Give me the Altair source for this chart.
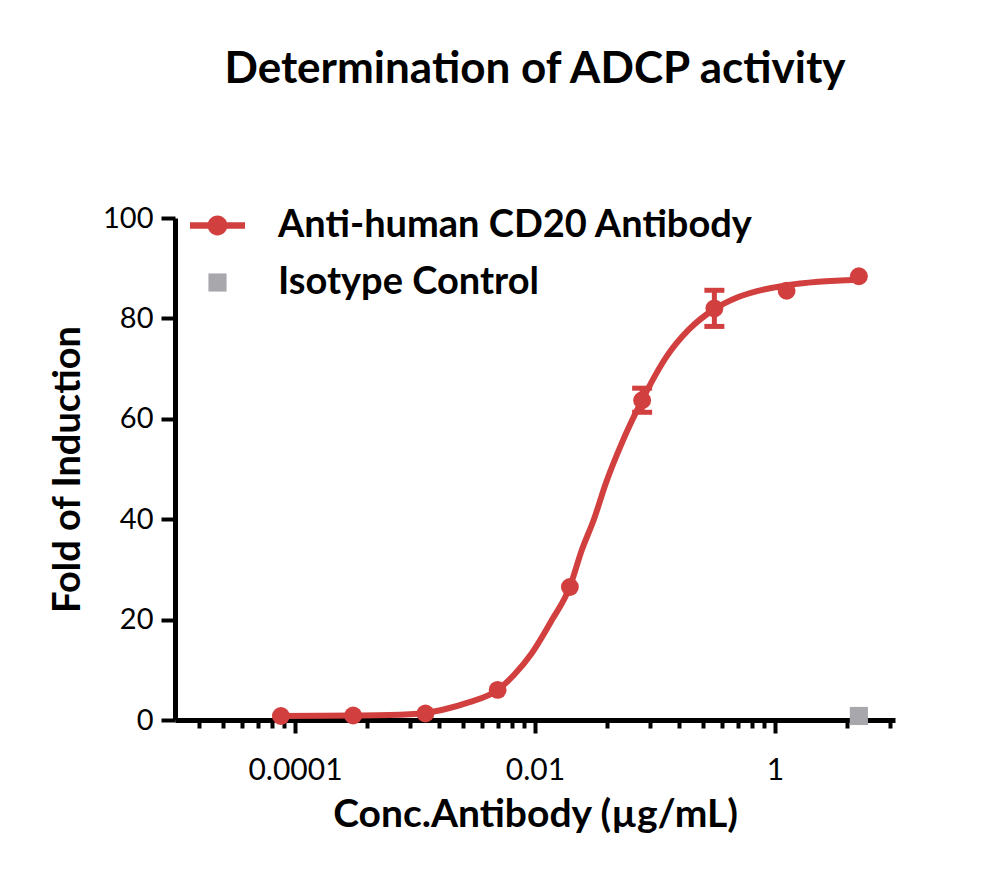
import altair as alt
import pandas as pd

# ---- data ----
conc = [5.0, 1.25, 0.3125, 0.078125, 0.01953, 0.004883, 0.001221, 0.0003052, 0.0000763]
fold = [88.4, 85.5, 82.0, 63.7, 26.5, 6.0, 1.3, 0.9, 0.8]
err = [0.0, 0.0, 3.6, 2.4, 0.0, 0.0, 0.0, 0.0, 0.0]

curve_conc = [7.6e-5, 1.6e-4, 3.0e-4, 6.1e-4, 1.2e-3, 1.8e-3, 2.8e-3, 4.9e-3, 6.7e-3,
              9.4e-3, 0.0139, 0.0195, 0.0246, 0.031, 0.039, 0.053, 0.078, 0.124,
              0.19, 0.31, 0.5, 1.25, 2.3, 5.0]
curve_fold = [0.8, 0.85, 0.9, 1.0, 1.4, 2.2, 3.5, 6.0, 9.0,
              13.3, 20.0, 26.5, 33.9, 40.0, 47.2, 55.2, 63.7, 72.3,
              77.7, 81.8, 84.3, 86.6, 87.3, 87.7]

iso_conc = [5.0]
iso_fold = [0.8]

series_names = ["Anti-human CD20 Antibody", "Isotype Control"]
series_colors = ["#D23F3F", "#A8A8AC"]

major_ticks = [1e-4, 1e-2, 1.0]
minor_ticks = [m * k * k for m in (1e-6, 1e-4, 1e-2, 1.0) for k in range(2, 10)]
minor_ticks = [v for v in minor_ticks if 1e-5 <= v <= 10]
x_ticks = sorted(major_ticks + minor_ticks)

FONT = "Lato"
RED = series_colors[0]

pts = pd.DataFrame({"conc": conc, "fold": fold, "err": err})
pts["lo"] = pts["fold"] - pts["err"]
pts["hi"] = pts["fold"] + pts["err"]
curve = pd.DataFrame({"conc": curve_conc, "fold": curve_fold})
iso = pd.DataFrame({"conc": iso_conc, "fold": iso_fold, "series": [series_names[1]] * len(iso_conc)})

is_major = "abs(log(datum.value)/LN10 - round(log(datum.value)/LN10)) < 1e-6"

x_scale = alt.Scale(type="log", domain=[1e-5, 10], nice=False)
y_scale = alt.Scale(domain=[0, 100], nice=False)

x_axis = alt.Axis(
    values=x_ticks,
    format="~g",
    labelExpr=f"{is_major} ? datum.label : ''",
    tickSize={"condition": {"test": is_major, "value": 13}, "value": 8},
    tickWidth=4,
    domainWidth=5,
    domainColor="black",
    tickColor="black",
    labelFont=FONT,
    labelFontSize=30,
    labelColor="black",
    labelPadding=22,
    labelFlush=False,
    labelOverlap=False,
    grid=False,
    title="Conc.Antibody (µg/mL)",
    titleFont=FONT,
    titleFontSize=39,
    titleFontWeight="bold",
    titleColor="black",
    titlePadding=10,
)
y_axis = alt.Axis(
    values=[0, 20, 40, 60, 80, 100],
    tickSize=14,
    tickWidth=4,
    domainWidth=5,
    domainColor="black",
    tickColor="black",
    labelFont=FONT,
    labelFontSize=29,
    labelColor="black",
    labelPadding=8,
    grid=False,
    title="Fold of Induction",
    titleFont=FONT,
    titleFontSize=38,
    titleFontWeight="bold",
    titleColor="black",
    titlePadding=15,
)

X = alt.X("conc:Q", scale=x_scale, axis=x_axis)
Y = alt.Y("fold:Q", scale=y_scale, axis=y_axis)

line = alt.Chart(curve).mark_line(color=RED, strokeWidth=6, interpolate="monotone").encode(x=X, y=Y)

bars = alt.Chart(pts).mark_rule(color=RED, strokeWidth=5, opacity=1).encode(
    x="conc:Q", y="lo:Q", y2="hi:Q"
)
cap_lo = alt.Chart(pts).transform_filter("datum.err > 0").mark_tick(
    color=RED, orient="horizontal", size=20, thickness=5, opacity=1
).encode(x="conc:Q", y="lo:Q")
cap_hi = alt.Chart(pts).transform_filter("datum.err > 0").mark_tick(
    color=RED, orient="horizontal", size=20, thickness=5, opacity=1
).encode(x="conc:Q", y="hi:Q")

dots = alt.Chart(pts).mark_point(filled=True, shape="circle", size=320, color=RED, opacity=1).encode(
    x="conc:Q", y="fold:Q"
)

line_circle_path = ("M-1,-0.12H1V0.12H-1Z "
                    "M0.36,0A0.36,0.36 0 1,1 -0.36,0A0.36,0.36 0 1,1 0.36,0Z")
square_path = "M-0.33,-0.33H0.33V0.33H-0.33Z"

legend = alt.Legend(
    title=None,
    orient="none",
    legendX=15,
    legendY=-20,
    padding=0,
    symbolSize=3025,
    symbolStrokeWidth=0,
    symbolOpacity=1,
    labelFont=FONT,
    labelFontSize=38,
    labelFontWeight="bold",
    labelColor="black",
    labelOffset=33,
    rowPadding=10,
    labelLimit=0,
)

iso_pts = alt.Chart(iso).mark_point(filled=True, size=3025, opacity=1, strokeWidth=0).encode(
    x="conc:Q",
    y="fold:Q",
    color=alt.Color("series:N", scale=alt.Scale(domain=series_names, range=series_colors), legend=legend),
    shape=alt.Shape("series:N", scale=alt.Scale(domain=series_names, range=[line_circle_path, square_path]), legend=legend),
)

chart = alt.layer(line, bars, cap_lo, cap_hi, dots, iso_pts).properties(
    width=720,
    height=502,
    autosize=alt.AutoSizeParams(type="none"),
    padding={"left": 167, "top": 210, "right": 97, "bottom": 144},
    title=alt.TitleParams(
        "Determination of ADCP activity",
        font=FONT, fontSize=44, fontWeight="bold", color="black",
        anchor="middle", offset=106,
    ),
).configure(background="white").configure_view(strokeWidth=0, stroke="transparent")

chart.save("out.html", embed_options={"renderer": "svg", "actions": False})
